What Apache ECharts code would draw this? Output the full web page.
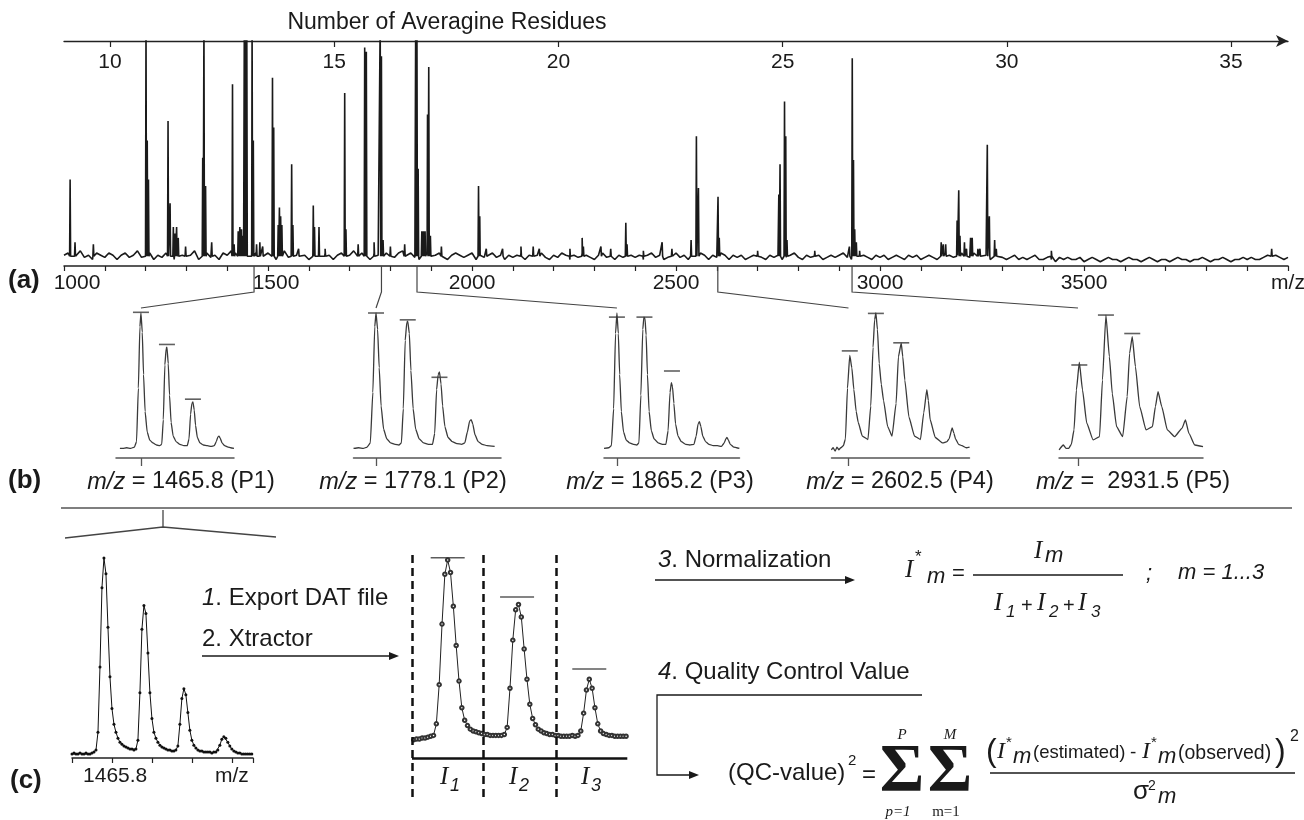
<!DOCTYPE html>
<html><head><meta charset="utf-8">
<script src="https://cdn.jsdelivr.net/npm/echarts@6/dist/echarts.min.js"></script>
<style>html,body{margin:0;padding:0;background:#fff}#c{width:1304px;height:820px}</style>
</head><body><div id="c"></div>
<script>
// ================= DATA =================
const residueTicks = [10, 15, 20, 25, 30, 35];
// baseline noise of spectrum (a), one value every 10 m/z starting at 1000
const noiseStart = 1000, noiseStep = 10;
const noise = [
 1,2,0,1,3,0,1,-1,2,1,   0,2,1,-1,1,2,0,1,3,0,   1,2,-1,1,0,2,1,-1,2,1,
 0,1,3,-1,1,2,0,1,-1,2,  1,3,2,0,2,1,3,2,1,0,    2,1,-1,1,3,0,2,1,0,1,
 -1,2,1,0,2,1,-1,1,2,0,  1,3,0,2,1,-1,2,1,0,2,   1,0,2,3,1,2,0,-1,1,2,
 0,1,2,0,-1,1,2,1,0,1,   2,-1,1,0,1,2,0,1,-1,1,  0,1,2,-1,1,0,1,2,0,-1,
 1,0,2,1,-1,1,0,2,1,0,   -1,1,2,0,1,-1,1,0,2,1,  0,1,-1,1,2,0,1,-1,0,1,
 2,0,1,-1,1,0,2,1,-1,1,  0,2,1,-1,1,0,1,-1,0,1,  2,0,-1,1,0,1,-1,0,1,2,
 0,-1,1,0,2,1,-1,0,1,0,  1,2,0,-1,1,2,1,0,-1,1,  0,1,-1,0,1,0,-1,1,0,1,
 -1,0,1,0,-1,1,2,1,0,1,  2,1,0,2,1,0,1,-1,0,1,   0,-1,0,1,-1,0,-1,0,1,-1,
 -1,0,-1,-2,0,-1,0,-1,-1,0,  -2,-1,0,-1,-2,-1,0,-1,-1,-2,  -1,0,-1,-1,-2,-1,0,-1,-2,-1,
 -1,-2,-1,0,-1,-1,-2,-1,-1,0,  -1,-2,-1,-1,0,-1,-2,-1,-1,0,  -1,0,-1,-1,0,1,0,1,0,-1,
 0];
// spectrum (a) peaks: m/z and relative intensity (values >100 are clipped at the top)
const peakMz = [1015,1027,1072,1201,1204,1207,1255,1260,1268,1272,
 1276,1280,1298,1340,1343,1347,1362,1413,1417,1427,
 1431,1435,1439,1442,1445,1448,1461,1464,1472,1480,
 1487,1511,1514,1525,1528,1531,1534,1558,1561,1575,
 1611,1614,1625,1640,1688,1691,1721,1737,1741,1760,
 1775,1778,1782,1800,1835,1862,1865,1868,1877,1881,
 1885,1891,1894,1898,1925,2016,2019,2035,2075,2120,
 2150,2165,2240,2270,2273,2316,2340,2377,2380,2420,
 2466,2490,2537,2550,2555,2603,2606,2700,2752,2755,
 2766,2769,2772,2840,2925,2932,2935,2938,2942,2950,
 3150,3155,3161,3189,3193,3196,3207,3212,3222,3226,
 3240,3245,3263,3268,3281,3285,3420,3960];
const peakH = [36,7,6,110,54,36,63,25,14,11,
 14,9,5,46,110,33,7,80,6,12,
 14,13,10,110,110,110,110,54,6,7,
 5,83,60,15,23,19,15,43,15,4,
 24,14,14,4,76,13,6,97,95,7,
 110,93,8,5,6,110,110,41,12,12,
 12,66,88,10,5,33,19,4,4,5,
 5,4,4,9,5,5,4,16,6,3,
 7,4,8,56,32,28,9,3,29,43,
 72,56,8,3,5,92,45,13,7,3,
 7,6,6,17,31,10,7,4,9,9,
 4,4,52,19,8,4,3,4];

// panels (b): monoisotopic m/z, names, profiles [offset in m/z units, intensity], expected-intensity markers
const panelMz = [1465.8, 1778.1, 1865.2, 2602.5, 2931.5];
const panelLabels = ['{i|m/z} = 1465.8 (P1)', '{i|m/z} = 1778.1 (P2)', '{i|m/z} = 1865.2 (P3)', '{i|m/z} = 2602.5 (P4)', '{i|m/z} =  2931.5 (P5)'];
const profP1 = [[-0.81,1],[-0.7,1],[-0.55,1.5],[-0.4,1],[-0.25,2],[-0.17,6],[-0.1,45],[-0.04,90],[0,100],[0.05,86],[0.1,55],[0.16,28],[0.24,13],[0.34,7],[0.46,5],[0.6,3.5],[0.72,3],[0.8,4],[0.86,22],[0.92,62],[0.97,74],[1,75],[1.05,63],[1.1,40],[1.16,20],[1.24,10],[1.35,6],[1.5,4],[1.65,3],[1.78,3],[1.85,8],[1.91,26],[1.96,34],[2,35],[2.05,29],[2.1,18],[2.17,9],[2.27,5],[2.4,3.5],[2.55,3],[2.7,2.5],[2.82,3],[2.9,6],[2.96,9.5],[3,10],[3.05,8.5],[3.12,5],[3.22,3],[3.35,2],[3.45,1.5],[3.58,1]];
const profP2 = [[-0.71,1],[-0.55,1.5],[-0.4,1],[-0.28,2],[-0.18,5],[-0.1,42],[-0.04,90],[0,100],[0.05,88],[0.1,60],[0.16,32],[0.24,15],[0.34,8],[0.46,5],[0.6,4],[0.72,3.5],[0.8,5],[0.86,30],[0.92,80],[0.97,93],[1,94],[1.05,85],[1.1,58],[1.17,30],[1.25,15],[1.36,8],[1.5,5],[1.65,4],[1.78,4],[1.85,12],[1.91,44],[1.96,55],[2,57],[2.05,48],[2.1,32],[2.17,17],[2.27,9],[2.4,6],[2.55,4.5],[2.7,4],[2.8,5],[2.88,13],[2.95,21],[3,22],[3.05,19],[3.12,11],[3.22,6],[3.35,4],[3.5,3],[3.74,2.5]];
const profP3 = [[-0.47,1],[-0.3,1.5],[-0.2,3],[-0.12,30],[-0.05,85],[0,100],[0.05,85],[0.1,55],[0.16,28],[0.24,13],[0.34,7],[0.46,5],[0.6,4],[0.72,3.5],[0.8,5],[0.87,40],[0.94,88],[0.98,97],[1.02,96],[1.06,84],[1.11,55],[1.17,28],[1.25,14],[1.35,8],[1.5,5],[1.65,4],[1.78,4],[1.86,14],[1.93,42],[1.98,49],[2.02,46],[2.07,34],[2.13,19],[2.22,10],[2.34,6],[2.5,4],[2.65,3.5],[2.8,4],[2.88,10],[2.95,19],[3,20.5],[3.05,17],[3.12,10],[3.22,6],[3.35,4],[3.5,3],[3.65,3],[3.8,2.5],[3.9,5],[3.96,8],[4,9],[4.05,7],[4.12,4],[4.25,2],[4.35,1.5],[4.45,1]];
const profP4 = [[-0.67,0],[-0.6,1.5],[-0.52,-1],[-0.45,2],[-0.38,0],[-0.3,1.5],[-0.2,3],[-0.12,8],[-0.04,45],[0.05,69],[0.13,60],[0.21,44],[0.3,28],[0.38,20],[0.54,10],[0.76,7.5],[0.87,32],[0.96,75],[1.02,95],[1.07,100],[1.13,88],[1.2,63],[1.28,48],[1.37,36],[1.53,17],[1.7,10],[1.86,34],[1.95,68],[2.06,78],[2.12,68],[2.2,51],[2.36,24],[2.58,10],[2.81,7.5],[2.94,27],[3.06,44],[3.12,36],[3.19,22],[3.39,9],[3.68,5],[3.85,6],[3.93,8],[4.05,16],[4.12,12],[4.18,8],[4.3,4],[4.43,3],[4.6,1.5],[4.73,2]];
const profP5 = [[-0.71,0],[-0.55,3.5],[-0.45,1],[-0.35,1],[-0.25,4],[-0.15,14.5],[-0.06,43.7],[0.05,64],[0.17,43.7],[0.33,19.4],[0.57,7.2],[0.81,9.6],[0.92,51],[1.05,98.5],[1.18,68],[1.29,41],[1.45,17],[1.68,9.6],[1.85,39],[1.94,70.5],[2.04,82.7],[2.16,60.8],[2.32,31.5],[2.56,14.5],[2.8,17],[2.91,31.5],[3.01,42.5],[3.15,31.5],[3.36,14.5],[3.63,9.6],[3.91,15.7],[4.04,21.8],[4.17,12],[4.39,3.5],[4.7,2.3]];
const markP1 = [[0,100.5],[1,77],[2,37]];
const markP2 = [[0,100],[1,95],[2,53]];
const markP3 = [[0,97],[1,97],[2,57.6]];
const markP4 = [[0.05,72.3],[1.07,99.7],[2.06,78.2]];
const markP5 = [[0.05,62],[1.05,98.5],[2.04,85]];

// panel (c) left: raw profile of P1, one value every 0.05 m/z from 1465.00
const cLeftStart = 1465.0, cLeftStep = 0.05;
const cLeftY = [1,1.5,1,1,1.5,1,1,1.5,1,1,1.5,2,3,12,45,85,100,92,65,40,
 24,16,12,9,7,6,5,4.5,4,3.5,3.5,3,3.5,8,32,64,76,72,52,32,
 19,12,9,7,5.5,4.5,4,3.5,3,3,2.5,2.5,3,5,16,29,34,31,22,13,
 8,5.5,4,3,2.5,2.5,2,2,2,2,1.5,2,2,3,5.5,8.5,9.7,9,7,5,
 3.5,2.5,2,1.5,1.5,1,1,1,1,1,1];
const cLeftTickLabels = ['1465.8', 'm/z'];
// panel (c) middle: Xtractor profile, one value every 0.04 m/z starting 0.48 below the monoisotopic peak
const cMidStart = -0.48, cMidStep = 0.04;
const cMidY = [-1,-0.5,-0.5,0,0,0.5,1,1.5,8,30,64,92,100,93,74,52,32,17,10,7,
 5,4,3.5,3,2.5,2,2,1.5,1.5,1.5,1.5,1.5,2,6,28,55,72,75,68,50,
 33,19,11,7.5,5,4,3,2.5,2,2,1.5,1.5,1,1,1,1,1.5,1,1.5,4,
 14,27,33,28,17,8,4,2.5,2,1.5,1.5,1,1,1,1,1];
const cMidMarks = [[0,101.3],[0.98,79.2],[2,38.8]];
const cMidBounds = [-0.504, 0.503, 1.53, 2.537];
const cMidAxisLevel = -11.2;

// ================= BUILD =================
const SANS = '"Liberation Sans", Arial, sans-serif';
const SERIF = '"Liberation Serif", "Times New Roman", serif';
const INK = '#1a1a1a';

const specData = [];
noise.forEach((v, i) => specData.push([noiseStart + i * noiseStep, v]));
peakMz.forEach((m, i) => { specData.push([m - 1.2, 0.5], [m, peakH[i]], [m + 1.2, 0.5]); });
specData.sort((a, b) => a[0] - b[0]);

const cLeftData = cLeftY.map((v, i) => [cLeftStart + i * cLeftStep, v]);
const cMidData = cMidY.map((v, i) => [cMidStart + i * cMidStep, v]);

const profiles = [profP1, profP2, profP3, profP4, profP5];
const marks = [markP1, markP2, markP3, markP4, markP5];
const panelLayout = [
  {left: 116, width: 118, min: -0.96, max: 3.58},
  {left: 353.5, width: 147.5, min: -0.71, max: 3.94},
  {left: 604, width: 135.5, min: -0.47, max: 4.455},
  {left: 831.5, width: 138, min: -0.664, max: 4.727},
  {left: 1059, width: 144, min: -0.714, max: 4.7}
];
const panelLabelX = [181, 413, 660, 900, 1133];

const grids = [{left: 64, top: 41, width: 1224, height: 225}];
panelLayout.forEach(p => grids.push({left: p.left, top: 313, width: p.width, height: 145}));
grids.push({left: 72, top: 558, width: 181, height: 200});
grids.push({left: 412, top: 552, width: 215.3, height: 245});
grids.forEach(g => { g.containLabel = false; g.outerBoundsMode = 'none'; });

const lblStyle = {fontSize: 21, fontFamily: SANS, color: INK};
const xAxes = [
  {type: 'value', gridIndex: 0, position: 'bottom', min: 1000, max: 4000, interval: 500,
   axisLine: {show: true, onZero: false, lineStyle: {color: '#222', width: 1.5}},
   axisTick: {show: true, length: 5, lineStyle: {color: '#222', width: 1.2}},
   minorTick: {show: true, splitNumber: 5, length: 5, lineStyle: {color: '#222', width: 1.2}},
   axisLabel: Object.assign({margin: 7,
     formatter: v => v === 4000 ? 'm/z' : (v === 1000 ? '{p|1000}' : (v === 1500 ? '{q|1500}' : String(v))),
     rich: {p: Object.assign({padding: [0, 0, 0, 26]}, lblStyle), q: Object.assign({padding: [0, 0, 0, 16]}, lblStyle)}}, lblStyle),
   splitLine: {show: false}, minorSplitLine: {show: false}},
  {type: 'value', gridIndex: 0, position: 'top', min: 8.974, max: 36.27,
   axisLine: {show: true, onZero: false, symbol: ['none', 'arrow'], symbolSize: [9, 12], lineStyle: {color: '#222', width: 1.3}},
   axisTick: {show: true, inside: true, length: 6, customValues: residueTicks, lineStyle: {color: '#222', width: 1.2}},
   axisLabel: Object.assign({inside: true, margin: 11, customValues: residueTicks}, lblStyle),
   splitLine: {show: false}}
];
const yAxes = [{type: 'value', gridIndex: 0, min: -4, max: 100, show: false}];
panelLayout.forEach((p, i) => {
  xAxes.push({type: 'value', gridIndex: 1 + i, min: p.min, max: p.max,
    axisLine: {show: true, onZero: false, lineStyle: {color: '#555', width: 1.5}},
    axisTick: {show: true, customValues: [0], length: 8, lineStyle: {color: '#555', width: 1.3}},
    axisLabel: {show: false}, splitLine: {show: false}});
  yAxes.push({type: 'value', gridIndex: 1 + i, min: -6, max: 100, show: false});
});
xAxes.push({type: 'value', gridIndex: 6, min: 1465, max: 1469.53, interval: 1,
  axisLine: {show: true, onZero: false, lineStyle: {color: '#222', width: 1.5}},
  axisTick: {show: true, length: 5, lineStyle: {color: '#222', width: 1.2}},
  axisLabel: Object.assign({margin: 8, customValues: [1466.08, 1469], formatter: v => v > 1468.5 ? cLeftTickLabels[1] : cLeftTickLabels[0]}, lblStyle),
  splitLine: {show: false}});
yAxes.push({type: 'value', gridIndex: 6, min: -1, max: 100, show: false});
xAxes.push({type: 'value', gridIndex: 7, min: cMidBounds[0], max: cMidBounds[3], show: false, splitLine: {show: false}});
yAxes.push({type: 'value', gridIndex: 7, min: -33.1, max: 104.5, show: false});

const series = [
  {type: 'line', xAxisIndex: 0, yAxisIndex: 0, data: specData, showSymbol: false, silent: true,
   lineStyle: {color: '#1a1a1a', width: 1.6}, clip: true}
];
profiles.forEach((pr, i) => {
  series.push({type: 'line', xAxisIndex: 2 + i, yAxisIndex: 1 + i, data: pr, showSymbol: false, silent: true,
    smooth: 0.15, smoothMonotone: 'x', clip: false, lineStyle: {color: '#3a3a3a', width: 1.3}});
  series.push({type: 'scatter', xAxisIndex: 2 + i, yAxisIndex: 1 + i, data: marks[i], symbol: 'rect',
    symbolSize: [16, 1.6], silent: true, clip: false, itemStyle: {color: '#3a3a3a'}});
});
series.push({type: 'line', xAxisIndex: 7, yAxisIndex: 6, data: cLeftData, showSymbol: true, symbol: 'circle',
  symbolSize: 3, silent: true, clip: false, lineStyle: {color: '#111', width: 1}, itemStyle: {color: '#111'}});
series.push({type: 'line', xAxisIndex: 8, yAxisIndex: 7, data: cMidData, showSymbol: true, symbol: 'emptyCircle',
  symbolSize: 3.5, silent: true, clip: false, lineStyle: {color: '#222', width: 1}, itemStyle: {color: '#333', borderWidth: 0.8},
  markLine: {silent: true, symbol: 'none', label: {show: false},
    lineStyle: {type: [8, 5], width: 2.5, color: '#111'},
    data: cMidBounds.map(b => ({xAxis: b})).concat([{yAxis: cMidAxisLevel, lineStyle: {type: 'solid', width: 2.5, color: '#111'}}])}});
series.push({type: 'scatter', xAxisIndex: 8, yAxisIndex: 7, data: cMidMarks, symbol: 'rect', symbolSize: [34, 1.6],
  silent: true, clip: false, itemStyle: {color: '#333'}});

// ---------- graphic helpers ----------
function T(x, y, text, size, o) {
  o = o || {};
  const font = (o.italic ? 'italic ' : '') + (o.bold ? 'bold ' : '') + size + 'px ' + (o.serif ? SERIF : SANS);
  const al = o.align || 'left';
  return {type: 'text', x: x, y: y, silent: true, z: 100,
    style: {text: text, font: font, fill: o.color || INK, align: al, verticalAlign: 'middle', textAlign: al, textVerticalAlign: 'middle'}};
}
function R(x, y, text, size, align) {
  return {type: 'text', x: x, y: y, silent: true, z: 100,
    style: {text: text, fontSize: size, fontFamily: SANS, fill: INK, align: align || 'left', verticalAlign: 'middle',
      textAlign: align || 'left', textVerticalAlign: 'middle',
      rich: {i: {fontStyle: 'italic', fontSize: size, fontFamily: SANS, fill: INK, color: INK},
             n: {fontSize: size, fontFamily: SANS, fill: INK, color: INK}}}};
}
function L(pts, w, color, dash) {
  return {type: 'polyline', silent: true, z: 100, shape: {points: pts},
    style: {stroke: color || INK, lineWidth: w || 1.2, fill: null, lineDash: dash || null}};
}
function A(x, y) {
  return {type: 'polygon', silent: true, z: 100, shape: {points: [[x, y], [x - 10, y - 4], [x - 10, y + 4]]}, style: {fill: INK}};
}

const G = [];
G.push(T(447, 23, 'Number of Averagine Residues', 23, {align: 'center'}));
G.push(T(8, 281, '(a)', 26, {bold: true}));
G.push(T(8, 481, '(b)', 26, {bold: true}));
G.push(T(10, 781, '(c)', 26, {bold: true}));
panelLabels.forEach((s, i) => G.push(R(panelLabelX[i], 482, s, 23.5, 'center')));
// separator and tent
G.push(L([[61, 508], [1292, 508]], 1.5, '#555'));
G.push(L([[65, 538], [163, 527], [276, 537]], 1.3, '#444'));
G.push(L([[163, 510], [163, 527]], 1.3, '#444'));
// steps 1 & 2
G.push(R(202, 598, '{i|1}. Export DAT file', 24));
G.push(T(202, 639, '2. Xtractor', 24));
G.push(L([[202, 656], [392, 656]], 1.3)); G.push(A(399, 656));
// I labels
[[440, 'I', 450, '1'], [509, 'I', 519, '2'], [581, 'I', 591, '3']].forEach(a => {
  G.push(T(a[0], 777, a[1], 25, {italic: true, serif: true}));
  G.push(T(a[2], 786, a[3], 18, {italic: true}));
});
// step 3 + normalization formula
G.push(R(658, 560, '{i|3}. Normalization', 24));
G.push(L([[655, 580], [848, 580]], 1.3)); G.push(A(855, 580));
G.push(T(905, 570, 'I', 25, {italic: true, serif: true}));
G.push(T(915, 557, '*', 17));
G.push(T(927, 577, 'm', 22, {italic: true}));
G.push(T(952, 574, '=', 22));
G.push(L([[973, 575], [1123, 575]], 1.3));
G.push(T(1034, 551, 'I', 25, {italic: true, serif: true}));
G.push(T(1045, 556, 'm', 22, {italic: true}));
G.push(T(994, 603, 'I', 25, {italic: true, serif: true}));
G.push(T(1006, 612, '1', 17, {italic: true}));
G.push(T(1021, 606, '+', 20));
G.push(T(1037, 603, 'I', 25, {italic: true, serif: true}));
G.push(T(1049, 612, '2', 17, {italic: true}));
G.push(T(1063, 606, '+', 20));
G.push(T(1078, 603, 'I', 25, {italic: true, serif: true}));
G.push(T(1091, 612, '3', 17, {italic: true}));
G.push(T(1146, 574, ';', 22, {italic: true}));
G.push(T(1178, 573, 'm = 1...3', 22, {italic: true}));
// step 4 + QC formula
G.push(R(658, 672, '{i|4}. Quality Control Value', 24));
G.push(L([[922, 695], [657, 695], [657, 775], [692, 775]], 1.3)); G.push(A(699, 775));
G.push(T(728, 773, '(QC-value)', 24));
G.push(T(848, 761, '2', 15));
G.push(T(862, 775, '=', 24));
G.push(T(902, 772, 'Σ', 68, {serif: true, bold: true, align: 'center'}));
G.push(T(950, 772, 'Σ', 68, {serif: true, bold: true, align: 'center'}));
G.push(T(902, 735, 'P', 15, {italic: true, serif: true, align: 'center'}));
G.push(T(950, 735, 'M', 15, {italic: true, serif: true, align: 'center'}));
G.push(T(898, 812, 'p=1', 15, {italic: true, serif: true, align: 'center'}));
G.push(T(946, 812, 'm=1', 15, {serif: true, align: 'center'}));
G.push(T(986, 752, '(', 32));
G.push(T(997, 752, 'I', 24, {italic: true, serif: true}));
G.push(T(1006, 743, '*', 15));
G.push(T(1013, 757, 'm', 22, {italic: true}));
G.push(T(1033, 753, '(estimated)', 18.5));
G.push(T(1130, 753, '-', 19));
G.push(T(1142, 752, 'I', 24, {italic: true, serif: true}));
G.push(T(1151, 743, '*', 15));
G.push(T(1158, 757, 'm', 22, {italic: true}));
G.push(T(1178, 754, '(observed)', 19.5));
G.push(T(1275, 752, ')', 32));
G.push(T(1290, 737, '2', 16));
G.push(L([[990, 773], [1295, 773]], 1.3));
G.push(T(1133, 792, 'σ', 26));
G.push(T(1148, 786, '2', 14));
G.push(T(1158, 797, 'm', 22, {italic: true}));

const chart = echarts.init(document.getElementById('c'), null, {renderer: 'canvas'});
chart.setOption({animation: false, backgroundColor: '#fff', grid: grids, xAxis: xAxes, yAxis: yAxes, series: series, graphic: G});

// connectors from spectrum (a) to panels (b), placed through the axes' own scales
const conn = [];
panelMz.forEach((mz, i) => {
  const top = chart.convertToPixel({xAxisIndex: 0, yAxisIndex: 0}, [mz, -4]);
  const bot = chart.convertToPixel({xAxisIndex: 2 + i, yAxisIndex: 1 + i}, [0, 100]);
  conn.push(L([[top[0], top[1]], [top[0], 292], [bot[0], bot[1] - 5]], 1.2, '#444'));
});
chart.setOption({graphic: G.concat(conn)});
</script></body></html>
